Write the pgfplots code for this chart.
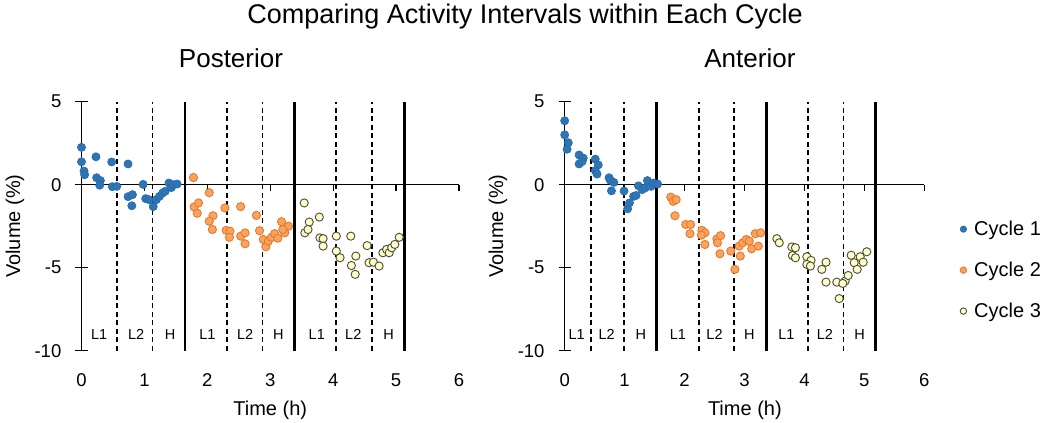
\documentclass[border=0pt]{standalone}
\usepackage{fontspec}
\setmainfont{Liberation Sans}
\usepackage{pgfplots}
\pgfplotsset{compat=1.18}
\definecolor{bfill}{HTML}{2E75B6}
\definecolor{bdraw}{HTML}{2A69A6}
\definecolor{ofill}{HTML}{F8A45E}
\definecolor{odraw}{HTML}{E8782E}
\definecolor{yfill}{HTML}{FFFDC8}
\definecolor{ydraw}{HTML}{4A4A3A}
\tikzset{
  dashv/.style={line width=1.7bp, dash pattern=on 5bp off 3.5bp},
  solidv/.style={line width=2.6bp},
  ilab/.style={font=\fontsize{14.5bp}{17bp}\selectfont},
}
\pgfplotsset{
  myaxis/.style={
    scale only axis, height=249bp,
    xmin=0, xmax=6, ymin=-10, ymax=5,
    axis line style={draw=none}, tick style={draw=none}, major tick length=0pt,
    xtick={0,1,2,3,4,5,6}, xticklabels={0,1,2,3,4,5,6},
    ytick={-10,-5,0,5}, yticklabels={-10,-5,0,5},
    ticklabel style={font=\fontsize{18.5bp}{22bp}\selectfont},
    xticklabel style={anchor=base, yshift=-36bp},
    yticklabel style={anchor=east, inner sep=0pt, xshift=-20bp},
    clip=false, anchor=south west,
    label style={font=\fontsize{20bp}{24bp}\selectfont},
    xlabel={Time (h)}, ylabel={Volume (\%)},
    title style={font=\fontsize{26bp}{30bp}\selectfont, anchor=base},
  },
  c1/.style={only marks, mark=*, mark size=4.1bp, mark options={fill=bfill, draw=bdraw, line width=0.6bp}},
  c2/.style={only marks, mark=*, mark size=4.1bp, mark options={fill=ofill, draw=odraw, line width=0.9bp}},
  c3/.style={only marks, mark=*, mark size=4.1bp, mark options={fill=yfill, draw=ydraw, line width=0.9bp}},
}
\begin{document}
\begin{tikzpicture}
\useasboundingbox (0,0) rectangle (1050bp,423bp);
\node[anchor=base, font=\fontsize{27bp}{32bp}\selectfont] at (525bp,399bp) {Comparing Activity Intervals within Each Cycle};
% ---------- Posterior ----------
\begin{axis}[myaxis, at={(81.5bp,72.3bp)}, width=377.5bp,
  title={Posterior}, title style={at={(axis description cs:0.396,1.114)}},
  ylabel style={at={(axis description cs:-0.176,0.5)}, anchor=center},
  xlabel style={at={(axis description cs:0.5,-0.238)}, anchor=center}]
\addplot[c1] coordinates {(0,2.25) (0,1.38) (0.04,0.82) (0.05,0.6) (0.23,1.68) (0.24,0.42) (0.3,0.25) (0.29,-0.03) (0.48,1.37) (0.49,-0.12) (0.56,-0.1) (0.74,1.25) (0.74,-0.72) (0.81,-0.6) (0.8,-1.27) (0.98,0.02) (1.02,-0.84) (1.07,-0.9) (1.14,-1.32) (1.19,-0.9) (1.24,-0.7) (1.29,-0.5) (1.33,-0.4) (1.39,0.1) (1.43,-0.17) (1.46,0.0) (1.52,0.04)};
\addplot[c2] coordinates {(1.78,0.43) (2.03,-0.48) (1.79,-1.34) (1.86,-1.1) (1.84,-1.72) (2.09,-1.87) (2.03,-2.2) (2.08,-2.7) (2.28,-1.4) (2.53,-1.32) (2.3,-2.75) (2.36,-2.8) (2.35,-3.17) (2.53,-3.1) (2.6,-2.9) (2.6,-3.56) (2.78,-1.85) (2.83,-2.77) (2.89,-3.3) (2.93,-3.74) (2.97,-3.4) (3.02,-3.17) (3.07,-2.95) (3.12,-3.22) (3.18,-2.23) (3.23,-2.9) (3.29,-2.5) (3.2,-2.7)};
\addplot[c3] coordinates {(3.54,-1.1) (3.62,-2.25) (3.55,-2.9) (3.6,-2.7) (3.78,-1.95) (3.79,-3.2) (3.84,-3.25) (3.84,-3.7) (4.05,-3.1) (4.05,-4.0) (4.11,-4.4) (4.28,-3.1) (4.36,-4.3) (4.29,-4.87) (4.35,-5.4) (4.54,-3.67) (4.57,-4.7) (4.64,-4.67) (4.73,-4.9) (4.79,-4.1) (4.85,-3.9) (4.89,-4.1) (4.93,-3.8) (4.98,-3.6) (5.05,-3.17)};
\draw[line width=1.3bp] (axis cs:0,-10) -- (axis cs:0,5);
\draw[line width=1.3bp] (axis cs:0,0) -- (axis cs:6,0);
\pgfplotsinvokeforeach{-10,-5,0,5}{\draw[line width=1.3bp] ([xshift=-6bp]axis cs:0,#1) -- ([xshift=6bp]axis cs:0,#1);}
\pgfplotsinvokeforeach{1,2,3,4,5,6}{\draw[line width=1.3bp] (axis cs:#1,0) -- ([yshift=-6bp]axis cs:#1,0);}
\pgfplotsinvokeforeach{0.564,1.13,2.31,2.875,4.05,4.62}{\draw[dashv] (axis cs:#1,-10) -- (axis cs:#1,5);}
\pgfplotsinvokeforeach{1.645,3.39,5.13}{\draw[solidv] (axis cs:#1,-10) -- (axis cs:#1,5);}
\node[ilab] at (axis cs:0.28,-9.05) {L1};
\node[ilab] at (axis cs:0.87,-9.05) {L2};
\node[ilab] at (axis cs:1.41,-9.05) {H};
\node[ilab] at (axis cs:2.0,-9.05) {L1};
\node[ilab] at (axis cs:2.6,-9.05) {L2};
\node[ilab] at (axis cs:3.13,-9.05) {H};
\node[ilab] at (axis cs:3.74,-9.05) {L1};
\node[ilab] at (axis cs:4.32,-9.05) {L2};
\node[ilab] at (axis cs:4.88,-9.05) {H};
\end{axis}
% ---------- Anterior ----------
\begin{axis}[myaxis, at={(564.7bp,72.3bp)}, width=359.6bp,
  title={Anterior}, title style={at={(axis description cs:0.515,1.114)}},
  ylabel style={at={(axis description cs:-0.1855,0.5)}, anchor=center},
  xlabel style={at={(axis description cs:0.501,-0.238)}, anchor=center},
  legend style={at={(axis description cs:1.091,0.537)}, anchor=north west, draw=none, fill=none,
    font=\fontsize{20bp}{24bp}\selectfont, row sep=21bp},
  legend cell align=left,
  legend image code/.code={\path[draw=none, fill=none] (0bp,-3bp) rectangle (12bp,3bp); \draw[#1, mark size=3.2bp] plot coordinates {(3.2bp,0bp)};}]
\addplot[c1] coordinates {(0,3.85) (0,3.0) (0.06,2.53) (0.04,2.14) (0.24,1.79) (0.31,1.6) (0.24,1.25) (0.29,1.39) (0.51,1.54) (0.56,1.19) (0.51,0.85) (0.54,0.64) (0.74,0.42) (0.76,0.27) (0.82,0.14) (0.78,-0.37) (0.99,-0.38) (1.05,-1.45) (1.08,-1.1) (1.15,-0.7) (1.19,-0.65) (1.23,-0.07) (1.29,-0.3) (1.34,-0.2) (1.38,0.25) (1.44,-0.1) (1.48,0.1) (1.55,0.04)};
\addlegendentry{Cycle 1}
\addplot[c2] coordinates {(1.77,-0.75) (1.81,-1.0) (1.86,-0.9) (1.84,-1.87) (2.02,-2.4) (2.1,-2.4) (2.09,-2.95) (2.29,-2.75) (2.34,-2.9) (2.28,-3.04) (2.34,-3.6) (2.54,-3.27) (2.6,-3.07) (2.55,-3.5) (2.59,-4.16) (2.77,-4.0) (2.84,-5.1) (2.91,-3.7) (2.93,-4.3) (2.97,-3.5) (3.03,-3.3) (3.08,-3.4) (3.12,-3.86) (3.18,-2.95) (3.23,-3.7) (3.27,-2.9)};
\addlegendentry{Cycle 2}
\addplot[c3] coordinates {(3.54,-3.25) (3.58,-3.5) (3.79,-3.75) (3.85,-3.8) (3.8,-4.27) (3.85,-4.4) (4.04,-4.34) (4.11,-4.56) (4.04,-4.8) (4.1,-4.9) (4.29,-5.1) (4.36,-4.67) (4.36,-5.87) (4.54,-5.87) (4.58,-6.86) (4.68,-5.8) (4.73,-5.47) (4.64,-5.95) (4.78,-4.25) (4.83,-4.7) (4.88,-5.1) (4.93,-4.34) (4.98,-4.67) (5.04,-4.04)};
\addlegendentry{Cycle 3}
\draw[line width=1.3bp] (axis cs:0,-10) -- (axis cs:0,5);
\draw[line width=1.3bp] (axis cs:0,0) -- (axis cs:6,0);
\pgfplotsinvokeforeach{-10,-5,0,5}{\draw[line width=1.3bp] ([xshift=-6bp]axis cs:0,#1) -- ([xshift=6bp]axis cs:0,#1);}
\pgfplotsinvokeforeach{1,2,3,4,5,6}{\draw[line width=1.3bp] (axis cs:#1,0) -- ([yshift=-6bp]axis cs:#1,0);}
\pgfplotsinvokeforeach{0.44,0.99,2.24,2.83,4.06,4.65}{\draw[dashv] (axis cs:#1,-10) -- (axis cs:#1,5);}
\pgfplotsinvokeforeach{1.53,3.37,5.19}{\draw[solidv] (axis cs:#1,-10) -- (axis cs:#1,5);}
\node[ilab] at (axis cs:0.2,-9.05) {L1};
\node[ilab] at (axis cs:0.7,-9.05) {L2};
\node[ilab] at (axis cs:1.27,-9.05) {H};
\node[ilab] at (axis cs:1.89,-9.05) {L1};
\node[ilab] at (axis cs:2.5,-9.05) {L2};
\node[ilab] at (axis cs:3.08,-9.05) {H};
\node[ilab] at (axis cs:3.7,-9.05) {L1};
\node[ilab] at (axis cs:4.34,-9.05) {L2};
\node[ilab] at (axis cs:4.92,-9.05) {H};
\end{axis}
\end{tikzpicture}
\end{document}
